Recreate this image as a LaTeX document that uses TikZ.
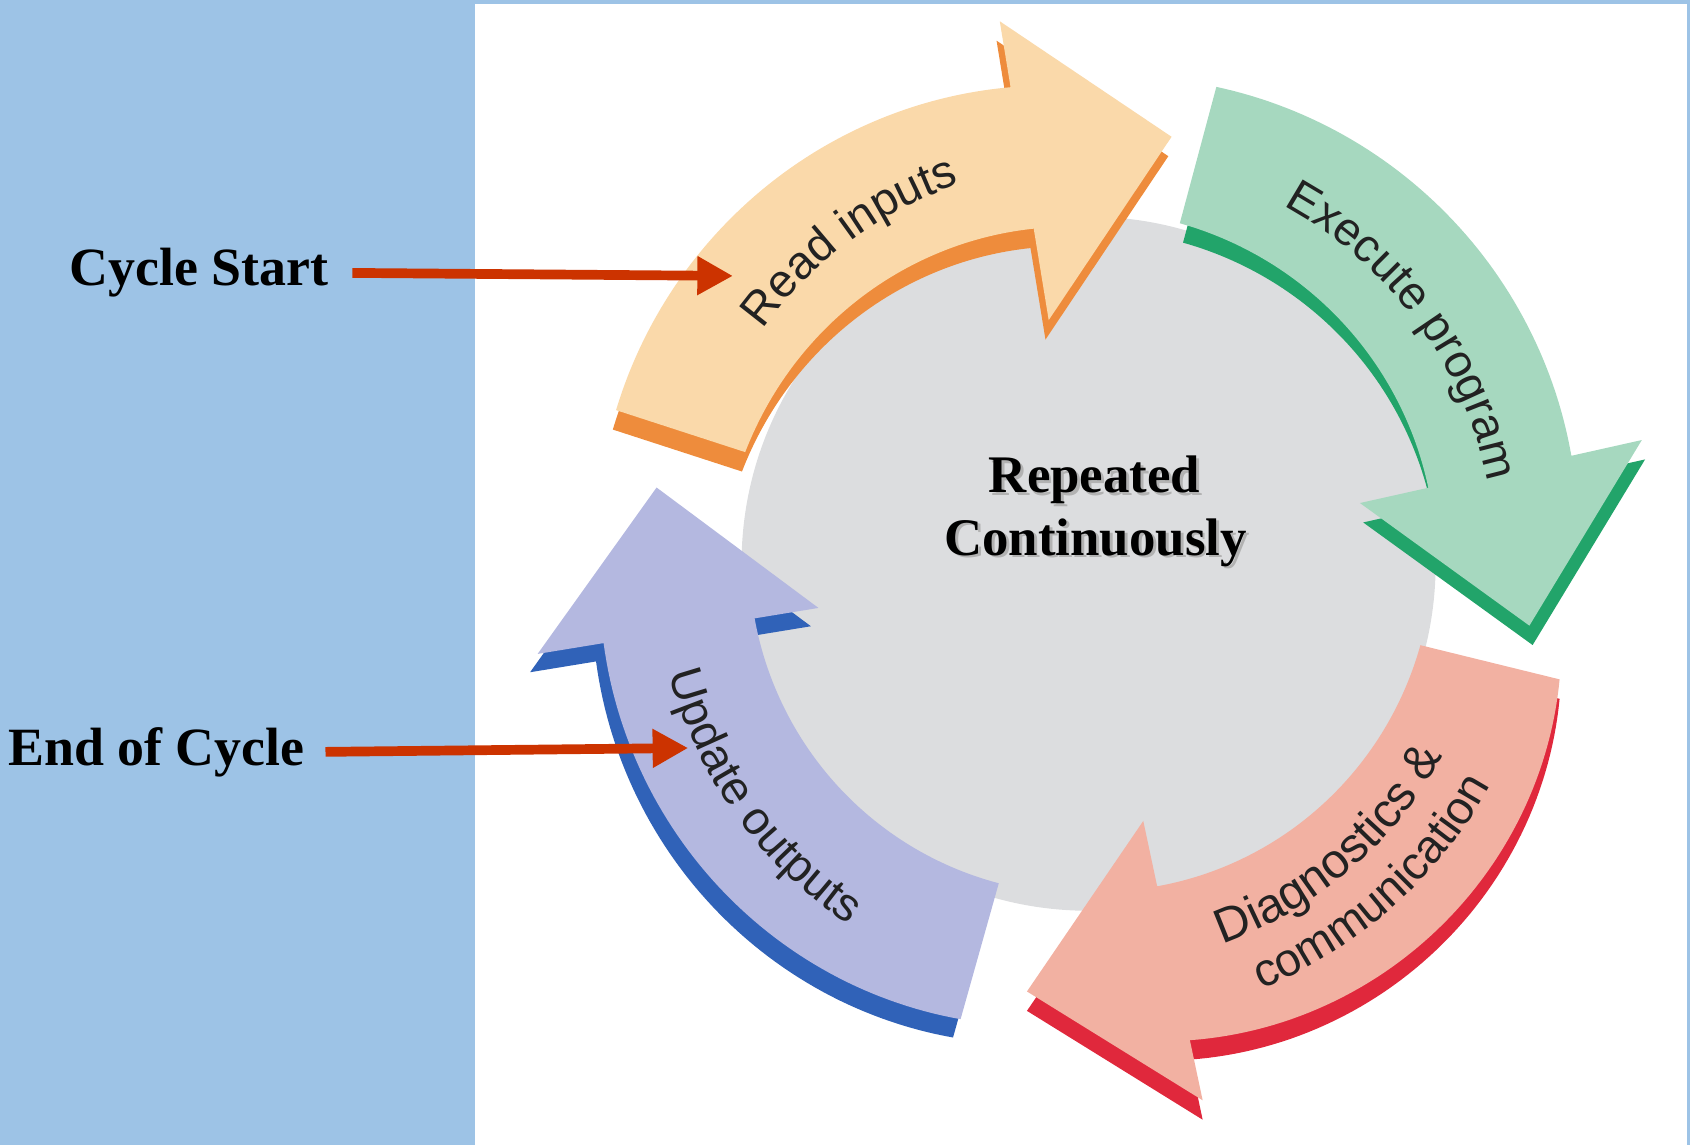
\documentclass[tikz,border=0pt]{standalone}
\usepackage{fontspec}
\setmainfont{Liberation Serif}
\newfontfamily\lblfont{Liberation Sans}
\usetikzlibrary{arrows.meta,decorations.text}

\definecolor{panel}{HTML}{9DC3E6}
\definecolor{disc}{HTML}{DCDDDF}
\definecolor{orF}{HTML}{FAD9AA}
\definecolor{orD}{HTML}{EE8C3C}
\definecolor{grF}{HTML}{A6D8BF}
\definecolor{grD}{HTML}{22A46A}
\definecolor{rdF}{HTML}{F2B1A2}
\definecolor{rdD}{HTML}{E0283C}
\definecolor{blF}{HTML}{B4B8E0}
\definecolor{blD}{HTML}{3062B8}
\definecolor{connred}{HTML}{CC3300}
\definecolor{lblgray}{HTML}{222222}

% curved block arrow around the origin, running clockwise
% #1 tail angle, #2 head-base angle, #3 tip angle,
% #4/#5 inner radius at tail/head, #6/#7 outer radius at tail/head,
% #8 inner barb radius, #9 outer barb radius
\newcommand\cyclearrow[9]{%
  plot[domain=#1:#2,samples=60,variable=\t]
    (\t:{#6+((#7)-(#6))*(\t-(#1))/((#2)-(#1))+\bulge*4*((\t-(#1))/((#2)-(#1)))*(1-(\t-(#1))/((#2)-(#1)))})
  -- (#2:#9) -- (#3:{((#5)+(#7))/2+22}) -- (#2:#8)
  -- plot[domain=#2:#1,samples=60,variable=\t]
    (\t:{#4+((#5)-(#4))*(\t-(#1))/((#2)-(#1))})
  -- cycle}
\def\bulge{6}

\newcommand\lblstyle{\lblfont\fontsize{21.6}{26}\selectfont}
\newcommand\lblstylewide{\lblfont\fontsize{22.5}{27}\selectfont}

\begin{document}
\begin{tikzpicture}[x=0.5pt,y=0.5pt,
  conn/.style={draw=connred, line width=4.5pt, -{Triangle[length=16.5pt,width=17pt]}},
  sidelabel/.style={font=\fontsize{25}{30}\selectfont\bfseries, inner sep=0pt},
  centerlabel/.style={font=\fontsize{24.5}{29}\selectfont\bfseries, inner sep=0pt},
  arclabel/.style={decorate, decoration={text along path, text align=center,
      text color=lblgray, text={|\lblstyle|#1}}},
  arclabelwide/.style={decorate, decoration={text along path, text align=center,
      text color=lblgray, text={|\lblstylewide|#1}}},
]
\useasboundingbox (0,0) rectangle (1568,1062);

% side panel and thin frame
\fill[panel] (0,0) rectangle (441,1062);
\fill[panel] (441,1058.3) rectangle (1568,1062);
\fill[panel] (1565,0) rectangle (1568,1062);

% central disc
\coordinate (O) at (1010,539);
\fill[disc] (O) circle[radius=161pt];

\begin{scope}[shift={(O)}]
  % Read inputs
  \fill[orD, shift={(-3,-18)}] \cyclearrow{162}{99.3}{79}{335}{315}{461}{448}{229}{510};
  \fill[orF] \cyclearrow{162}{99.3}{79}{335}{315}{461}{448}{229}{510};
  % Execute program
  \fill[grD, shift={(3,-18)}] \cyclearrow{75}{12.6}{-8}{327}{323}{458}{459}{258}{526};
  \fill[grF] \cyclearrow{75}{12.6}{-8}{327}{323}{458}{459}{258}{526};
  % Diagnostics & communication
  \def\bulge{18}
  \fill[rdD, shift={(0,-18)}] \cyclearrow{-13.8}{-78}{-98.2}{317}{306}{450}{452}{244}{509};
  \fill[rdF] \cyclearrow{-13.8}{-78}{-98.2}{317}{306}{450}{452}{244}{509};
  % Update outputs
  \def\bulge{8}
  \fill[blD, shift={(-7,-17)}] \cyclearrow{254.3}{189.3}{170}{308}{314}{439}{456}{254}{518};
  \fill[blF] \cyclearrow{254.3}{189.3}{170}{308}{314}{439}{456}{254}{518};

  % labels on the arrows
  \path[arclabel={Read inputs}] (166.5:372) arc[start angle=166.5, end angle=86.5, radius=186pt];
  \path[arclabel={Execute program}] (76.5:378) arc[start angle=76.5, end angle=-3.5, radius=189pt];
  \path[arclabelwide={Diagnostics {\&}}] (-89.5:374) arc[start angle=-89.5, end angle=-9.5, radius=187pt];
  \path[arclabel={communication}] (-88.4:426) arc[start angle=-88.4, end angle=-8.4, radius=213pt];
  \path[arclabel={Update outputs}] (175.5:402) arc[start angle=175.5, end angle=255.5, radius=201pt];
\end{scope}

% centre caption with soft shadow
\node[centerlabel, text=black!30, anchor=base] (rep1s) at (1018,602.7) {Repeated};
\node[centerlabel, text=black!30, anchor=base] (rep2s) at (1019,544.7) {Continuously};
\node[centerlabel, anchor=base] (rep1) at (1015.5,605) {Repeated};
\node[centerlabel, anchor=base] (rep2) at (1016.5,547) {Continuously};

% side captions and pointers
\node[sidelabel, anchor=base east] (cs) at (305,797) {Cycle Start};
\node[sidelabel, anchor=base east] (ec) at (283,352) {End of Cycle};
\coordinate (csTip) at (680,806);
\coordinate (ecTip) at (638.5,368);
\draw[conn, shorten <=11pt] (cs.east) -- (csTip);
\draw[conn, shorten <=9.5pt] (ec.east) -- (ecTip);
\end{tikzpicture}
\end{document}
